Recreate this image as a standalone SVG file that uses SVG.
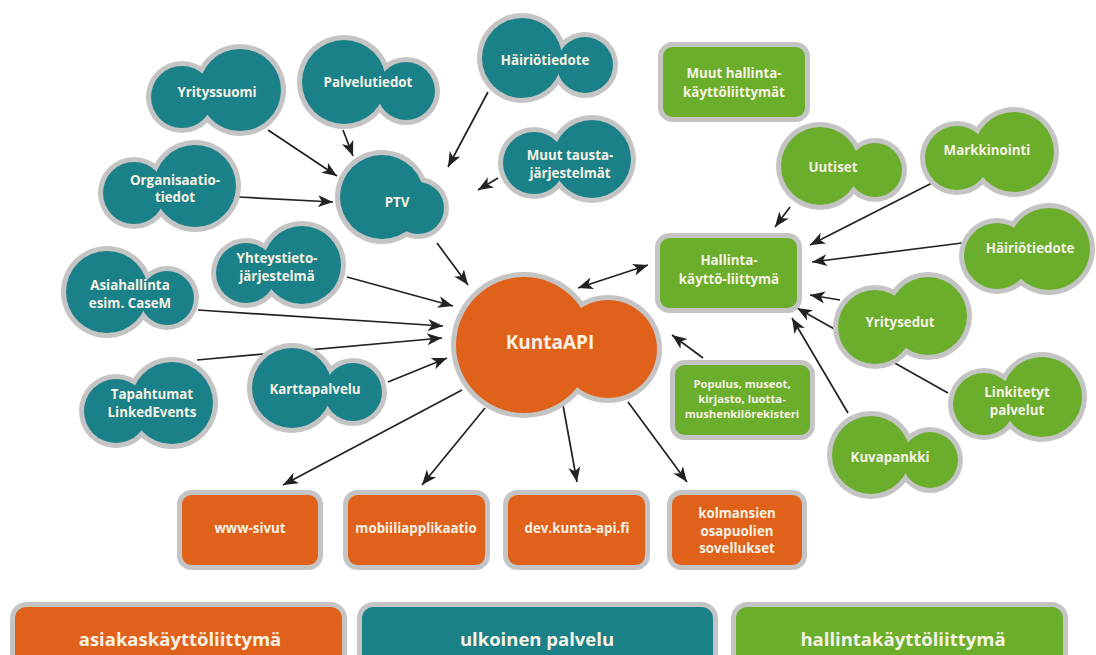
<svg xmlns="http://www.w3.org/2000/svg" width="1096" height="655" viewBox="0 0 1096 655">
<style>
.bd{fill:#c4c4c4}
.tl{fill:#1a8189}
.or{fill:#e0611a}
.gr{fill:#6aae2c}
.rt{stroke:#c4c4c4;stroke-width:5}
text{font-family:"Open Sans","Liberation Sans",sans-serif;font-weight:700;fill:#f6f1e4;text-anchor:middle;dominant-baseline:central}
.l{font-size:13.3px}
.s{font-size:11.3px}
.k{font-size:19px}
.lg{font-size:18.5px}
.c{fill:none;stroke:#222;stroke-width:1.7}
</style>
<defs>
<marker id="ah" markerUnits="userSpaceOnUse" markerWidth="16" markerHeight="14" viewBox="0 0 16 14" refX="15" refY="7" orient="auto-start-reverse">
<path d="M0,1 L15,7 L0,13 L4,7 Z" fill="#222"/>
</marker>
</defs>
<rect width="1096" height="655" fill="#ffffff"/>
<g id="connectors">
<line class="c" x1="268" y1="130" x2="337" y2="176" marker-end="url(#ah)"/>
<line class="c" x1="343" y1="130" x2="353" y2="156" marker-end="url(#ah)"/>
<line class="c" x1="238" y1="197" x2="333" y2="202" marker-end="url(#ah)"/>
<line class="c" x1="488" y1="92" x2="448" y2="167" marker-end="url(#ah)"/>
<line class="c" x1="498" y1="178" x2="478" y2="190" marker-end="url(#ah)"/>
<line class="c" x1="437" y1="243" x2="468" y2="285" marker-end="url(#ah)"/>
<line class="c" x1="347" y1="277" x2="453" y2="306" marker-end="url(#ah)"/>
<line class="c" x1="198" y1="310" x2="443" y2="326" marker-end="url(#ah)"/>
<line class="c" x1="197" y1="360" x2="442" y2="338" marker-end="url(#ah)"/>
<line class="c" x1="388" y1="382" x2="447" y2="358" marker-end="url(#ah)"/>
<line class="c" x1="578" y1="288" x2="648" y2="265" marker-start="url(#ah)" marker-end="url(#ah)"/>
<line class="c" x1="703" y1="358" x2="672" y2="335" marker-end="url(#ah)"/>
<line class="c" x1="462" y1="390" x2="283" y2="485" marker-end="url(#ah)"/>
<line class="c" x1="485" y1="408" x2="422" y2="485" marker-end="url(#ah)"/>
<line class="c" x1="563" y1="405" x2="577" y2="482" marker-end="url(#ah)"/>
<line class="c" x1="628" y1="402" x2="687" y2="482" marker-end="url(#ah)"/>
<line class="c" x1="790" y1="207" x2="775" y2="227" marker-end="url(#ah)"/>
<line class="c" x1="932" y1="183" x2="810" y2="245" marker-end="url(#ah)"/>
<line class="c" x1="962" y1="243" x2="812" y2="262" marker-end="url(#ah)"/>
<line class="c" x1="840" y1="300" x2="810" y2="295" marker-end="url(#ah)"/>
<line class="c" x1="948" y1="393" x2="797" y2="308" marker-end="url(#ah)"/>
<line class="c" x1="848" y1="413" x2="792" y2="318" marker-end="url(#ah)"/>
</g>
<g id="n-yrityssuomi"><circle class="bd" cx="182" cy="97" r="36"/><circle class="bd" cx="240" cy="90" r="46"/><circle class="tl" cx="182" cy="97" r="31"/><circle class="tl" cx="240" cy="90" r="41"/><text class="l" x="217" y="92">Yrityssuomi</text></g>
<g id="n-palvelutiedot"><circle class="bd" cx="344" cy="82" r="47"/><circle class="bd" cx="406" cy="91" r="34"/><circle class="tl" cx="344" cy="82" r="42"/><circle class="tl" cx="406" cy="91" r="29"/><text class="l" x="368" y="82">Palvelutiedot</text></g>
<g id="n-organisaatio"><circle class="bd" cx="134" cy="193" r="36"/><circle class="bd" cx="195" cy="186" r="46"/><circle class="tl" cx="134" cy="193" r="31"/><circle class="tl" cx="195" cy="186" r="41"/><text class="l" x="175" y="180">Organisaatio-</text><text class="l" x="175" y="197">tiedot</text></g>
<g id="n-ptv"><circle class="bd" cx="382" cy="197" r="47"/><circle class="bd" cx="418" cy="208" r="31"/><circle class="tl" cx="382" cy="197" r="42"/><circle class="tl" cx="418" cy="208" r="26"/><text class="l" x="397" y="202">PTV</text></g>
<g id="n-hairio-teal"><circle class="bd" cx="522" cy="58" r="45"/><circle class="bd" cx="585" cy="65" r="33"/><circle class="tl" cx="522" cy="58" r="40"/><circle class="tl" cx="585" cy="65" r="28"/><text class="l" x="545" y="60">Häiriötiedote</text></g>
<g id="n-muut-tausta"><circle class="bd" cx="534" cy="163" r="36"/><circle class="bd" cx="592" cy="159" r="44"/><circle class="tl" cx="534" cy="163" r="31"/><circle class="tl" cx="592" cy="159" r="39"/><text class="l" x="570" y="155">Muut tausta-</text><text class="l" x="570" y="173">järjestelmät</text></g>
<g id="n-yhteystieto"><circle class="bd" cx="246" cy="273" r="35"/><circle class="bd" cx="302" cy="265" r="44"/><circle class="tl" cx="246" cy="273" r="30"/><circle class="tl" cx="302" cy="265" r="39"/><text class="l" x="277" y="258">Yhteystieto-</text><text class="l" x="277" y="276">järjestelmä</text></g>
<g id="n-asiahallinta"><circle class="bd" cx="107" cy="292" r="46"/><circle class="bd" cx="167" cy="298" r="32"/><circle class="tl" cx="107" cy="292" r="41"/><circle class="tl" cx="167" cy="298" r="27"/><text class="l" x="130" y="285">Asiahallinta</text><text class="l" x="130" y="303">esim. CaseM</text></g>
<g id="n-tapahtumat"><circle class="bd" cx="116" cy="411" r="37"/><circle class="bd" cx="172" cy="403" r="46"/><circle class="tl" cx="116" cy="411" r="32"/><circle class="tl" cx="172" cy="403" r="41"/><text class="l" x="152" y="394">Tapahtumat</text><text class="l" x="152" y="412">LinkedEvents</text></g>
<g id="n-karttapalvelu"><circle class="bd" cx="292" cy="388" r="45"/><circle class="bd" cx="353" cy="392" r="34"/><circle class="tl" cx="292" cy="388" r="40"/><circle class="tl" cx="353" cy="392" r="29"/><text class="l" x="315" y="389">Karttapalvelu</text></g>
<g id="n-kuntaapi"><circle class="bd" cx="524" cy="345" r="73"/><circle class="bd" cx="608" cy="349" r="54"/><circle class="or" cx="524" cy="345" r="68"/><circle class="or" cx="608" cy="349" r="49"/><text class="k" x="550" y="342">KuntaAPI</text></g>
<g id="n-uutiset"><circle class="bd" cx="820" cy="166" r="44"/><circle class="bd" cx="875" cy="170" r="32"/><circle class="gr" cx="820" cy="166" r="39"/><circle class="gr" cx="875" cy="170" r="27"/><text class="l" x="833" y="167">Uutiset</text></g>
<g id="n-markkinointi"><circle class="bd" cx="957" cy="158" r="37"/><circle class="bd" cx="1014" cy="152" r="45"/><circle class="gr" cx="957" cy="158" r="32"/><circle class="gr" cx="1014" cy="152" r="40"/><text class="l" x="987" y="150">Markkinointi</text></g>
<g id="n-hairio-green"><circle class="bd" cx="997" cy="256" r="38"/><circle class="bd" cx="1049" cy="249" r="46"/><circle class="gr" cx="997" cy="256" r="33"/><circle class="gr" cx="1049" cy="249" r="41"/><text class="l" x="1030" y="248">Häiriötiedote</text></g>
<g id="n-yritysedut"><circle class="bd" cx="875" cy="327" r="42"/><circle class="bd" cx="928" cy="316" r="44"/><circle class="gr" cx="875" cy="327" r="37"/><circle class="gr" cx="928" cy="316" r="39"/><text class="l" x="900" y="322">Yritysedut</text></g>
<g id="n-linkitetyt"><circle class="bd" cx="984" cy="404" r="36"/><circle class="bd" cx="1042" cy="397" r="45"/><circle class="gr" cx="984" cy="404" r="31"/><circle class="gr" cx="1042" cy="397" r="40"/><text class="l" x="1017" y="392">Linkitetyt</text><text class="l" x="1017" y="410">palvelut</text></g>
<g id="n-kuvapankki"><circle class="bd" cx="871" cy="455" r="44"/><circle class="bd" cx="930" cy="460" r="33"/><circle class="gr" cx="871" cy="455" r="39"/><circle class="gr" cx="930" cy="460" r="28"/><text class="l" x="890" y="457">Kuvapankki</text></g>
<g id="n-muut-hallinta"><rect class="gr rt" x="660.5" y="44.5" width="147" height="75" rx="12"/><text class="l" x="734" y="73">Muut hallinta-</text><text class="l" x="734" y="92">käyttöliittymät</text></g>
<g id="n-hallinta"><rect class="gr rt" x="657.5" y="235.5" width="142" height="75" rx="12"/><text class="l" x="729" y="260">Hallinta-</text><text class="l" x="729" y="279">käyttö-liittymä</text></g>
<g id="n-populus"><rect class="gr rt" x="672.5" y="362.5" width="140" height="75" rx="12"/><text class="s" x="742" y="383">Populus, museot,</text><text class="s" x="742" y="398">kirjasto, luotta-</text><text class="s" x="742" y="413">mushenkilörekisteri</text></g>
<g id="n-www"><rect class="or rt" x="179.5" y="492.5" width="141" height="75" rx="12"/><text class="l" x="250" y="528">www-sivut</text></g>
<g id="n-mobiili"><rect class="or rt" x="345.5" y="492.5" width="142" height="75" rx="12"/><text class="l" x="416" y="528">mobiiliapplikaatio</text></g>
<g id="n-dev"><rect class="or rt" x="505.5" y="492.5" width="142" height="75" rx="12"/><text class="l" x="577" y="528">dev.kunta-api.fi</text></g>
<g id="n-kolmansien"><rect class="or rt" x="669.5" y="492.5" width="135" height="75" rx="12"/><text class="l" x="737" y="513">kolmansien</text><text class="l" x="737" y="531">osapuolien</text><text class="l" x="737" y="548">sovellukset</text></g>
<g id="legend-asiakas"><rect class="or rt" x="12.5" y="604.5" width="332" height="70" rx="14"/><text class="lg" x="180" y="638">asiakaskäyttöliittymä</text></g>
<g id="legend-ulkoinen"><rect class="tl rt" x="359.5" y="604.5" width="356" height="70" rx="14"/><text class="lg" x="537" y="638">ulkoinen palvelu</text></g>
<g id="legend-hallinta"><rect class="gr rt" x="733.5" y="604.5" width="332" height="70" rx="14"/><text class="lg" x="903" y="638">hallintakäyttöliittymä</text></g>
</svg>
